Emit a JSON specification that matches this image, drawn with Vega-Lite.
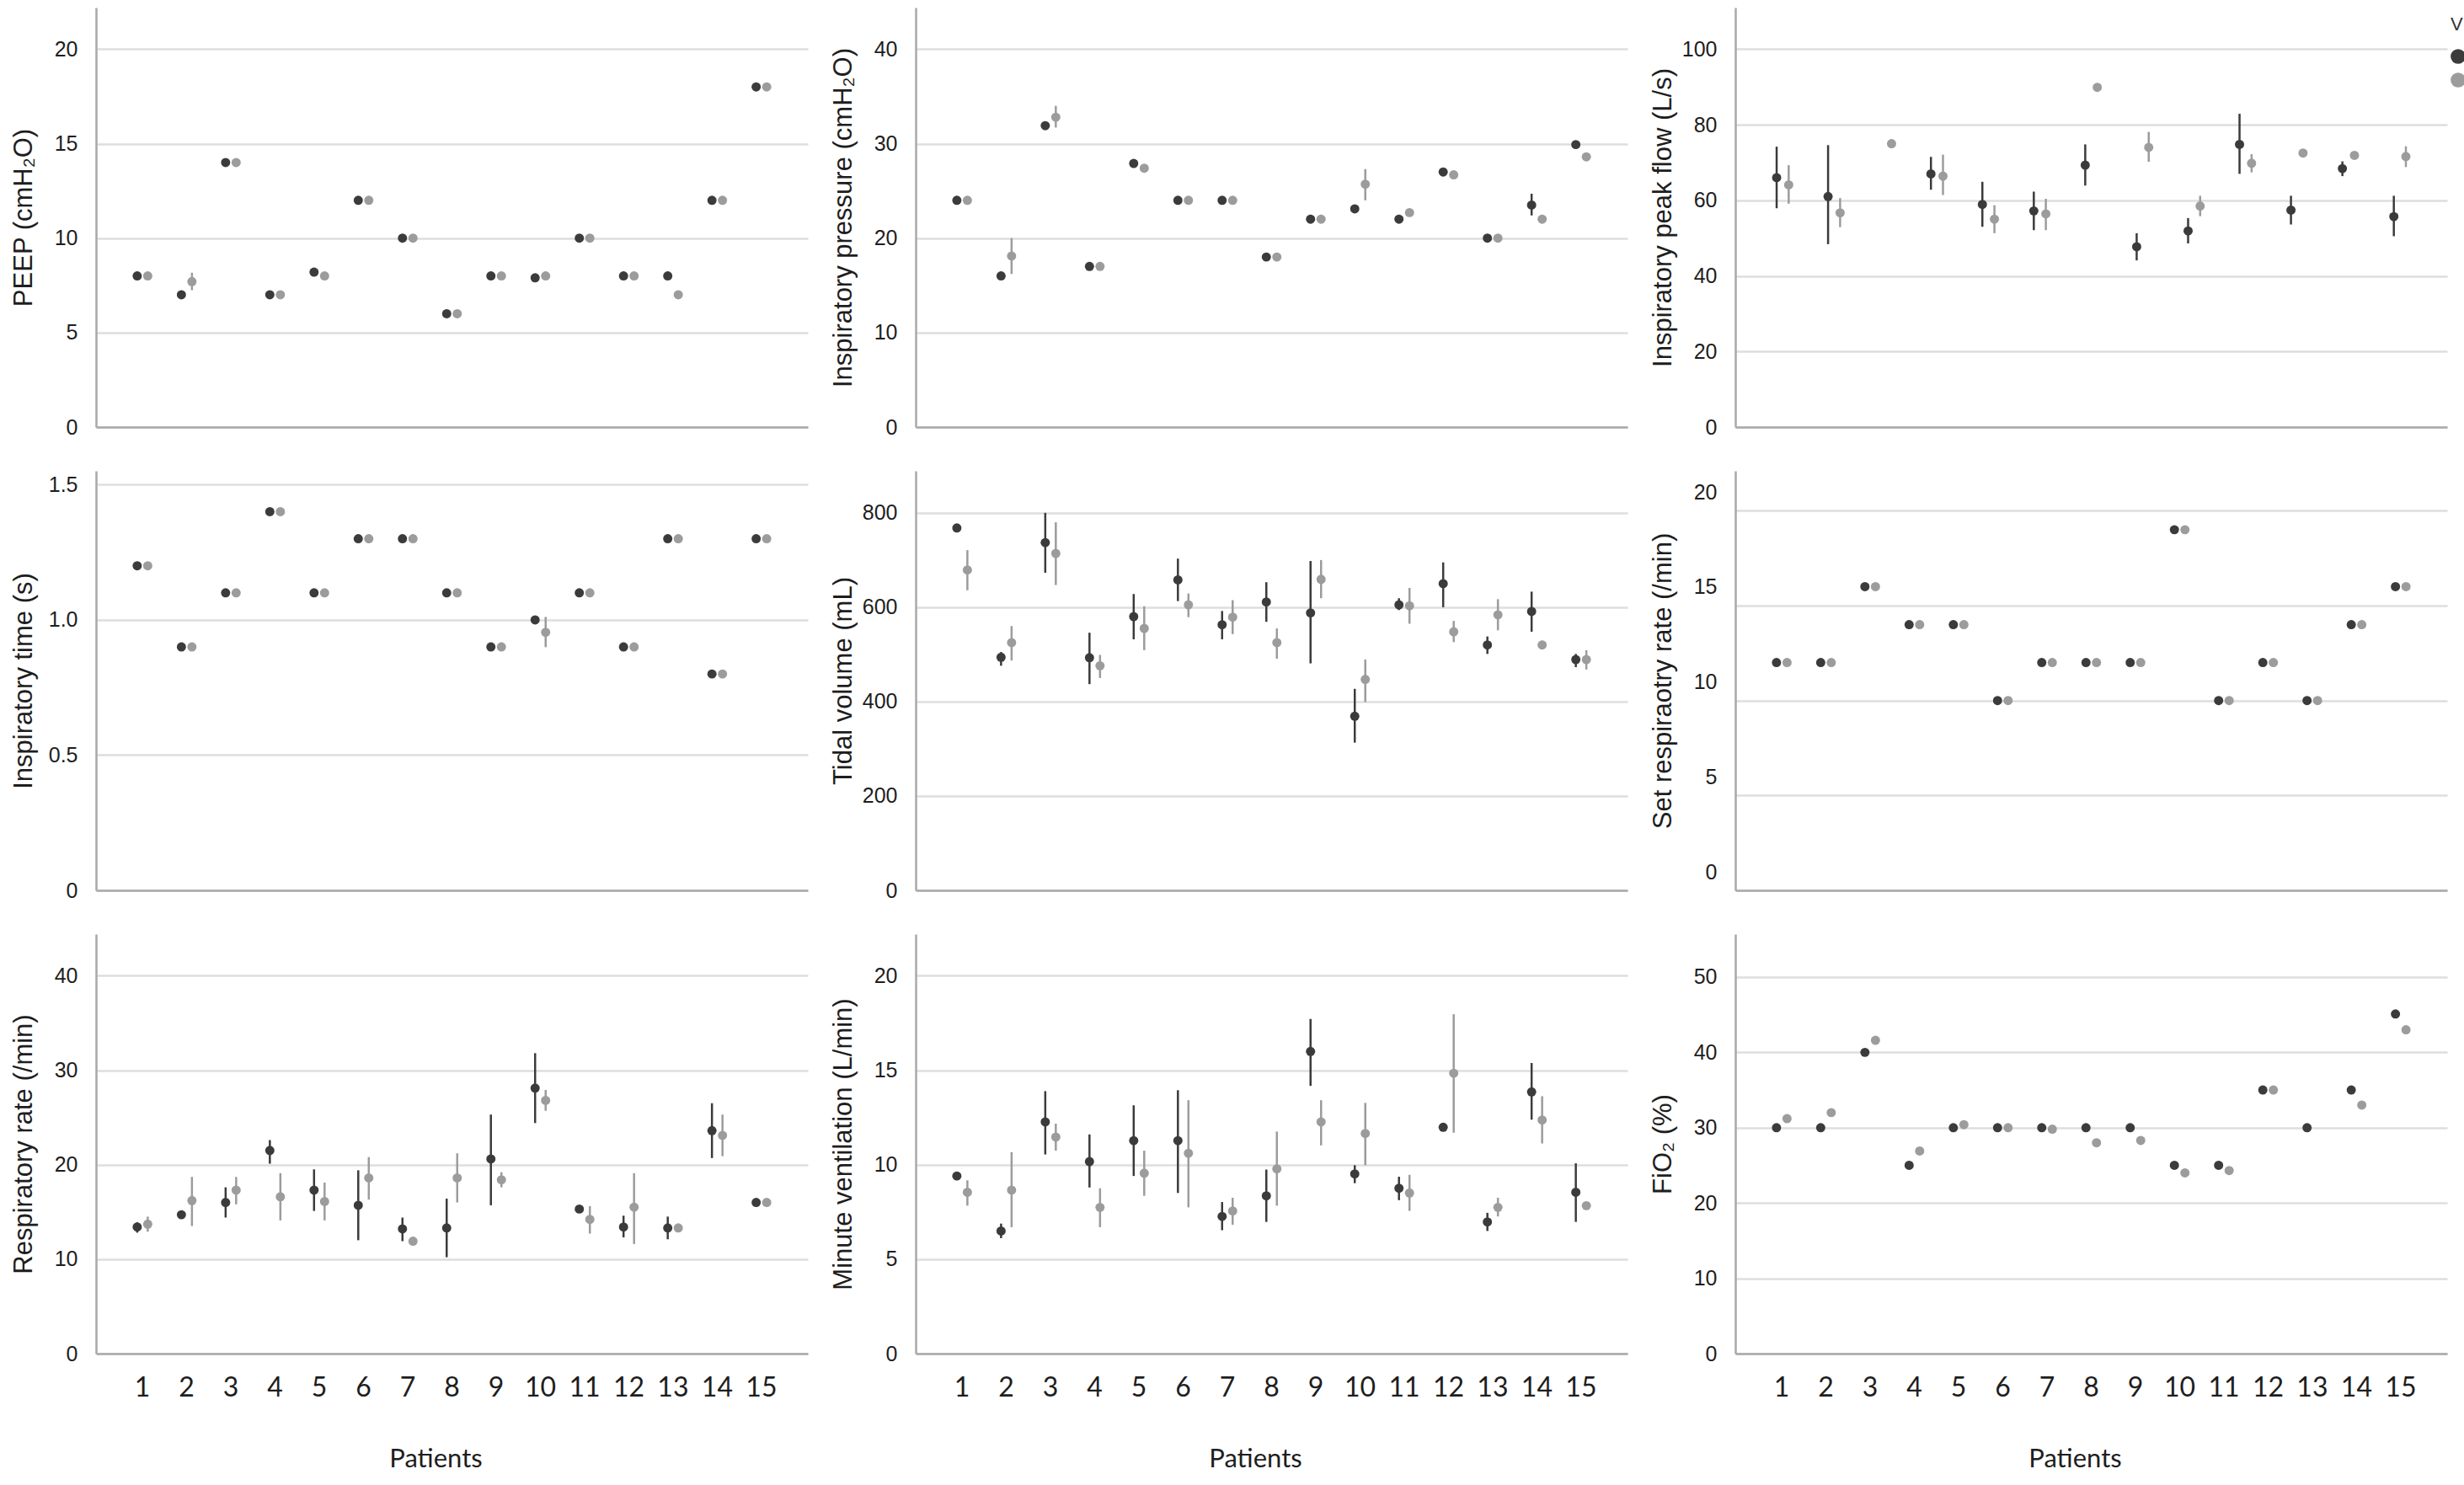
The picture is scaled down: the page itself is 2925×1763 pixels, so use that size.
{
  "$schema": "https://vega.github.io/schema/vega-lite/v6.json",
  "padding": {"left": 12, "top": 9, "right": 0, "bottom": 0},
  "background": "white",
  "columns": 3,
  "spacing": {"row": 39, "column": 26},
  "resolve": {"scale": {"x": "independent", "y": "independent", "xOffset": "independent", "color": "shared"}, "legend": {"color": "shared"}},
  "config": {
    "view": {"stroke": null},
    "axis": {"domainColor": "#a9a9a9", "domainWidth": 2.5, "gridColor": "#dedede", "gridWidth": 2.5, "ticks": false, "labelColor": "#1e1e1e", "titleColor": "#1e1e1e"},
    "axisY": {"grid": true, "labelFont": "Liberation Sans Narrow, Liberation Sans, Arial", "labelFontSize": 25, "labelPadding": 22, "minExtent": 64, "maxExtent": 64, "titleFont": "Liberation Sans, Arial", "titleFontSize": 31, "titleFontWeight": "normal", "titlePadding": 6},
    "axisX": {"grid": false, "labelFont": "Lato", "labelFontSize": 32, "labelAngle": 0, "labelPadding": 25, "titleFont": "Lato", "titleFontSize": 31, "titleFontWeight": "normal", "titlePadding": 54},
    "legend": {"offset": -6, "padding": 10, "titleFontSize": 22, "titleFont": "Liberation Sans", "titleFontWeight": "normal", "titleColor": "#333333", "titlePadding": 17, "symbolSize": 314, "symbolType": "circle", "symbolStrokeWidth": 0, "rowPadding": 10, "labelFontSize": 10, "labelOffset": 4}
  },
  "concat": [
    {
      "width": 845, "height": 498,
      "data": {"values": [
        {"patient": 1, "group": "A", "mean": 8, "lo": 8, "hi": 8}, {"patient": 1, "group": "B", "mean": 8, "lo": 8, "hi": 8},
        {"patient": 2, "group": "A", "mean": 7, "lo": 7, "hi": 7}, {"patient": 2, "group": "B", "mean": 7.7, "lo": 7.24, "hi": 8.17},
        {"patient": 3, "group": "A", "mean": 14, "lo": 14, "hi": 14}, {"patient": 3, "group": "B", "mean": 14, "lo": 14, "hi": 14},
        {"patient": 4, "group": "A", "mean": 7, "lo": 7, "hi": 7}, {"patient": 4, "group": "B", "mean": 7, "lo": 7, "hi": 7},
        {"patient": 5, "group": "A", "mean": 8.2, "lo": 8.2, "hi": 8.2}, {"patient": 5, "group": "B", "mean": 8, "lo": 8, "hi": 8},
        {"patient": 6, "group": "A", "mean": 12, "lo": 12, "hi": 12}, {"patient": 6, "group": "B", "mean": 12, "lo": 12, "hi": 12},
        {"patient": 7, "group": "A", "mean": 10, "lo": 10, "hi": 10}, {"patient": 7, "group": "B", "mean": 10, "lo": 10, "hi": 10},
        {"patient": 8, "group": "A", "mean": 6, "lo": 6, "hi": 6}, {"patient": 8, "group": "B", "mean": 6, "lo": 6, "hi": 6},
        {"patient": 9, "group": "A", "mean": 8, "lo": 8, "hi": 8}, {"patient": 9, "group": "B", "mean": 8, "lo": 8, "hi": 8},
        {"patient": 10, "group": "A", "mean": 7.9, "lo": 7.9, "hi": 7.9}, {"patient": 10, "group": "B", "mean": 8, "lo": 8, "hi": 8},
        {"patient": 11, "group": "A", "mean": 10, "lo": 10, "hi": 10}, {"patient": 11, "group": "B", "mean": 10, "lo": 10, "hi": 10},
        {"patient": 12, "group": "A", "mean": 8, "lo": 8, "hi": 8}, {"patient": 12, "group": "B", "mean": 8, "lo": 8, "hi": 8},
        {"patient": 13, "group": "A", "mean": 8, "lo": 8, "hi": 8}, {"patient": 13, "group": "B", "mean": 7, "lo": 7, "hi": 7},
        {"patient": 14, "group": "A", "mean": 12, "lo": 12, "hi": 12}, {"patient": 14, "group": "B", "mean": 12, "lo": 12, "hi": 12},
        {"patient": 15, "group": "A", "mean": 18, "lo": 18, "hi": 18}, {"patient": 15, "group": "B", "mean": 18, "lo": 18, "hi": 18}
      ]},
      "encoding": {
        "x": {"field": "patient", "type": "ordinal", "scale": {"type": "band", "paddingInner": 0, "paddingOuter": 0.55}, "axis": {"labels": false, "title": null}},
        "xOffset": {"field": "group", "type": "nominal", "scale": {"type": "point", "padding": 0, "range": [20, 32.5]}},
        "color": {"field": "group", "type": "nominal", "title": "V", "scale": {"domain": ["A", "B"], "range": ["#3b3b3b", "#9c9c9c"]}}
      },
      "layer": [
        {"mark": {"type": "circle", "size": 120, "opacity": 1}, "encoding": {"y": {"field": "mean", "type": "quantitative", "title": "PEEP (cmH₂O)", "scale": {"domain": [0, 22.2], "nice": false}, "axis": {"values": [0, 5, 10, 15, 20]}}}},
        {"mark": {"type": "rule", "strokeWidth": 2.5}, "encoding": {"y": {"field": "lo", "type": "quantitative", "title": "PEEP (cmH₂O)", "scale": {"domain": [0, 22.2], "nice": false}, "axis": {"values": [0, 5, 10, 15, 20]}}, "y2": {"field": "hi"}}}
      ]
    },
    {
      "width": 845, "height": 498,
      "data": {"values": [
        {"patient": 1, "group": "A", "mean": 24, "lo": 24, "hi": 24}, {"patient": 1, "group": "B", "mean": 24, "lo": 24, "hi": 24},
        {"patient": 2, "group": "A", "mean": 16, "lo": 16, "hi": 16}, {"patient": 2, "group": "B", "mean": 18.1, "lo": 16.2, "hi": 20.0},
        {"patient": 3, "group": "A", "mean": 31.9, "lo": 31.9, "hi": 31.9}, {"patient": 3, "group": "B", "mean": 32.8, "lo": 31.7, "hi": 34.0},
        {"patient": 4, "group": "A", "mean": 17, "lo": 17, "hi": 17}, {"patient": 4, "group": "B", "mean": 17, "lo": 17, "hi": 17},
        {"patient": 5, "group": "A", "mean": 27.9, "lo": 27.9, "hi": 27.9}, {"patient": 5, "group": "B", "mean": 27.4, "lo": 27.4, "hi": 27.4},
        {"patient": 6, "group": "A", "mean": 24, "lo": 24, "hi": 24}, {"patient": 6, "group": "B", "mean": 24, "lo": 24, "hi": 24},
        {"patient": 7, "group": "A", "mean": 24, "lo": 24, "hi": 24}, {"patient": 7, "group": "B", "mean": 24, "lo": 24, "hi": 24},
        {"patient": 8, "group": "A", "mean": 18, "lo": 18, "hi": 18}, {"patient": 8, "group": "B", "mean": 18, "lo": 18, "hi": 18},
        {"patient": 9, "group": "A", "mean": 22, "lo": 22, "hi": 22}, {"patient": 9, "group": "B", "mean": 22, "lo": 22, "hi": 22},
        {"patient": 10, "group": "A", "mean": 23.1, "lo": 23.1, "hi": 23.1}, {"patient": 10, "group": "B", "mean": 25.7, "lo": 24.0, "hi": 27.3},
        {"patient": 11, "group": "A", "mean": 22.0, "lo": 22.0, "hi": 22.0}, {"patient": 11, "group": "B", "mean": 22.7, "lo": 22.7, "hi": 22.7},
        {"patient": 12, "group": "A", "mean": 27.0, "lo": 27.0, "hi": 27.0}, {"patient": 12, "group": "B", "mean": 26.7, "lo": 26.7, "hi": 26.7},
        {"patient": 13, "group": "A", "mean": 20, "lo": 20, "hi": 20}, {"patient": 13, "group": "B", "mean": 20, "lo": 20, "hi": 20},
        {"patient": 14, "group": "A", "mean": 23.5, "lo": 22.4, "hi": 24.7}, {"patient": 14, "group": "B", "mean": 22.0, "lo": 22.0, "hi": 22.0},
        {"patient": 15, "group": "A", "mean": 29.9, "lo": 29.9, "hi": 29.9}, {"patient": 15, "group": "B", "mean": 28.6, "lo": 28.6, "hi": 28.6}
      ]},
      "encoding": {
        "x": {"field": "patient", "type": "ordinal", "scale": {"type": "band", "paddingInner": 0, "paddingOuter": 0.55}, "axis": {"labels": false, "title": null}},
        "xOffset": {"field": "group", "type": "nominal", "scale": {"type": "point", "padding": 0, "range": [20, 32.5]}},
        "color": {"field": "group", "type": "nominal", "title": "V", "scale": {"domain": ["A", "B"], "range": ["#3b3b3b", "#9c9c9c"]}}
      },
      "layer": [
        {"mark": {"type": "circle", "size": 120, "opacity": 1}, "encoding": {"y": {"field": "mean", "type": "quantitative", "title": "Inspiratory pressure (cmH₂O)", "scale": {"domain": [0, 44.4], "nice": false}, "axis": {"values": [0, 10, 20, 30, 40]}}}},
        {"mark": {"type": "rule", "strokeWidth": 2.5}, "encoding": {"y": {"field": "lo", "type": "quantitative", "title": "Inspiratory pressure (cmH₂O)", "scale": {"domain": [0, 44.4], "nice": false}, "axis": {"values": [0, 10, 20, 30, 40]}}, "y2": {"field": "hi"}}}
      ]
    },
    {
      "width": 845, "height": 498,
      "data": {"values": [
        {"patient": 1, "group": "A", "mean": 66.0, "lo": 57.9, "hi": 74.2}, {"patient": 1, "group": "B", "mean": 64.1, "lo": 59.1, "hi": 69.3},
        {"patient": 2, "group": "A", "mean": 61.0, "lo": 48.4, "hi": 74.6}, {"patient": 2, "group": "B", "mean": 56.7, "lo": 52.9, "hi": 60.6},
        {"patient": 3, "group": "B", "mean": 75.0, "lo": 75.0, "hi": 75.0},
        {"patient": 4, "group": "A", "mean": 67.0, "lo": 62.8, "hi": 71.5}, {"patient": 4, "group": "B", "mean": 66.4, "lo": 61.4, "hi": 72.1},
        {"patient": 5, "group": "A", "mean": 58.9, "lo": 53.0, "hi": 64.9}, {"patient": 5, "group": "B", "mean": 55.0, "lo": 51.3, "hi": 58.7},
        {"patient": 6, "group": "A", "mean": 57.2, "lo": 52.1, "hi": 62.3}, {"patient": 6, "group": "B", "mean": 56.4, "lo": 52.1, "hi": 60.4},
        {"patient": 7, "group": "A", "mean": 69.3, "lo": 63.9, "hi": 74.8}, {"patient": 7, "group": "B", "mean": 89.9, "lo": 89.9, "hi": 89.9},
        {"patient": 8, "group": "A", "mean": 47.7, "lo": 44.1, "hi": 51.3}, {"patient": 8, "group": "B", "mean": 74.0, "lo": 70.2, "hi": 78.1},
        {"patient": 9, "group": "A", "mean": 51.9, "lo": 48.6, "hi": 55.3}, {"patient": 9, "group": "B", "mean": 58.5, "lo": 55.8, "hi": 61.2},
        {"patient": 10, "group": "A", "mean": 74.8, "lo": 67.0, "hi": 82.9}, {"patient": 10, "group": "B", "mean": 69.8, "lo": 67.4, "hi": 72.2},
        {"patient": 11, "group": "A", "mean": 57.4, "lo": 53.6, "hi": 61.2}, {"patient": 11, "group": "B", "mean": 72.5, "lo": 72.5, "hi": 72.5},
        {"patient": 12, "group": "A", "mean": 68.4, "lo": 66.4, "hi": 70.3}, {"patient": 12, "group": "B", "mean": 71.9, "lo": 71.9, "hi": 71.9},
        {"patient": 13, "group": "A", "mean": 55.7, "lo": 50.5, "hi": 61.2}, {"patient": 13, "group": "B", "mean": 71.6, "lo": 68.8, "hi": 74.3}
      ]},
      "encoding": {
        "x": {"field": "patient", "type": "ordinal", "scale": {"type": "band", "paddingInner": 0, "paddingOuter": 0.42}, "axis": {"labels": false, "title": null}},
        "xOffset": {"field": "group", "type": "nominal", "scale": {"type": "point", "padding": 0, "range": [23.4, 37.7]}},
        "color": {"field": "group", "type": "nominal", "title": "V", "scale": {"domain": ["A", "B"], "range": ["#3b3b3b", "#9c9c9c"]}}
      },
      "layer": [
        {"mark": {"type": "circle", "size": 120, "opacity": 1}, "encoding": {"y": {"field": "mean", "type": "quantitative", "title": "Inspiratory peak flow (L/s)", "scale": {"domain": [0, 111], "nice": false}, "axis": {"values": [0, 20, 40, 60, 80, 100]}}}},
        {"mark": {"type": "rule", "strokeWidth": 2.5}, "encoding": {"y": {"field": "lo", "type": "quantitative", "title": "Inspiratory peak flow (L/s)", "scale": {"domain": [0, 111], "nice": false}, "axis": {"values": [0, 20, 40, 60, 80, 100]}}, "y2": {"field": "hi"}}}
      ]
    },
    {
      "width": 845, "height": 498,
      "data": {"values": [
        {"patient": 1, "group": "A", "mean": 1.2, "lo": 1.2, "hi": 1.2}, {"patient": 1, "group": "B", "mean": 1.2, "lo": 1.2, "hi": 1.2},
        {"patient": 2, "group": "A", "mean": 0.9, "lo": 0.9, "hi": 0.9}, {"patient": 2, "group": "B", "mean": 0.9, "lo": 0.9, "hi": 0.9},
        {"patient": 3, "group": "A", "mean": 1.1, "lo": 1.1, "hi": 1.1}, {"patient": 3, "group": "B", "mean": 1.1, "lo": 1.1, "hi": 1.1},
        {"patient": 4, "group": "A", "mean": 1.4, "lo": 1.4, "hi": 1.4}, {"patient": 4, "group": "B", "mean": 1.4, "lo": 1.4, "hi": 1.4},
        {"patient": 5, "group": "A", "mean": 1.1, "lo": 1.1, "hi": 1.1}, {"patient": 5, "group": "B", "mean": 1.1, "lo": 1.1, "hi": 1.1},
        {"patient": 6, "group": "A", "mean": 1.3, "lo": 1.3, "hi": 1.3}, {"patient": 6, "group": "B", "mean": 1.3, "lo": 1.3, "hi": 1.3},
        {"patient": 7, "group": "A", "mean": 1.3, "lo": 1.3, "hi": 1.3}, {"patient": 7, "group": "B", "mean": 1.3, "lo": 1.3, "hi": 1.3},
        {"patient": 8, "group": "A", "mean": 1.1, "lo": 1.1, "hi": 1.1}, {"patient": 8, "group": "B", "mean": 1.1, "lo": 1.1, "hi": 1.1},
        {"patient": 9, "group": "A", "mean": 0.9, "lo": 0.9, "hi": 0.9}, {"patient": 9, "group": "B", "mean": 0.9, "lo": 0.9, "hi": 0.9},
        {"patient": 10, "group": "A", "mean": 1.0, "lo": 1.0, "hi": 1.0}, {"patient": 10, "group": "B", "mean": 0.954, "lo": 0.899, "hi": 1.011},
        {"patient": 11, "group": "A", "mean": 1.1, "lo": 1.1, "hi": 1.1}, {"patient": 11, "group": "B", "mean": 1.1, "lo": 1.1, "hi": 1.1},
        {"patient": 12, "group": "A", "mean": 0.9, "lo": 0.9, "hi": 0.9}, {"patient": 12, "group": "B", "mean": 0.9, "lo": 0.9, "hi": 0.9},
        {"patient": 13, "group": "A", "mean": 1.3, "lo": 1.3, "hi": 1.3}, {"patient": 13, "group": "B", "mean": 1.3, "lo": 1.3, "hi": 1.3},
        {"patient": 14, "group": "A", "mean": 0.8, "lo": 0.8, "hi": 0.8}, {"patient": 14, "group": "B", "mean": 0.8, "lo": 0.8, "hi": 0.8},
        {"patient": 15, "group": "A", "mean": 1.3, "lo": 1.3, "hi": 1.3}, {"patient": 15, "group": "B", "mean": 1.3, "lo": 1.3, "hi": 1.3}
      ]},
      "encoding": {
        "x": {"field": "patient", "type": "ordinal", "scale": {"type": "band", "paddingInner": 0, "paddingOuter": 0.55}, "axis": {"labels": false, "title": null}},
        "xOffset": {"field": "group", "type": "nominal", "scale": {"type": "point", "padding": 0, "range": [20, 32.5]}},
        "color": {"field": "group", "type": "nominal", "title": "V", "scale": {"domain": ["A", "B"], "range": ["#3b3b3b", "#9c9c9c"]}}
      },
      "layer": [
        {"mark": {"type": "circle", "size": 120, "opacity": 1}, "encoding": {"y": {"field": "mean", "type": "quantitative", "title": "Inspiratory time (s)", "scale": {"domain": [0, 1.551], "nice": false}, "axis": {"values": [0, 0.5, 1, 1.5], "labelExpr": "datum.value == 0 ? '0' : format(datum.value, '.1f')"}}}},
        {"mark": {"type": "rule", "strokeWidth": 2.5}, "encoding": {"y": {"field": "lo", "type": "quantitative", "title": "Inspiratory time (s)", "scale": {"domain": [0, 1.551], "nice": false}, "axis": {"values": [0, 0.5, 1, 1.5], "labelExpr": "datum.value == 0 ? '0' : format(datum.value, '.1f')"}}, "y2": {"field": "hi"}}}
      ]
    },
    {
      "width": 845, "height": 498,
      "data": {"values": [
        {"patient": 1, "group": "A", "mean": 768, "lo": 768, "hi": 768}, {"patient": 1, "group": "B", "mean": 679, "lo": 636, "hi": 721},
        {"patient": 2, "group": "A", "mean": 494, "lo": 476, "hi": 505}, {"patient": 2, "group": "B", "mean": 525, "lo": 487, "hi": 560},
        {"patient": 3, "group": "A", "mean": 737, "lo": 673, "hi": 800}, {"patient": 3, "group": "B", "mean": 714, "lo": 647, "hi": 780},
        {"patient": 4, "group": "A", "mean": 493, "lo": 437, "hi": 546}, {"patient": 4, "group": "B", "mean": 476, "lo": 450, "hi": 499},
        {"patient": 5, "group": "A", "mean": 580, "lo": 532, "hi": 628}, {"patient": 5, "group": "B", "mean": 555, "lo": 509, "hi": 602},
        {"patient": 6, "group": "A", "mean": 658, "lo": 613, "hi": 703}, {"patient": 6, "group": "B", "mean": 605, "lo": 579, "hi": 629},
        {"patient": 7, "group": "A", "mean": 563, "lo": 532, "hi": 592}, {"patient": 7, "group": "B", "mean": 579, "lo": 543, "hi": 615},
        {"patient": 8, "group": "A", "mean": 611, "lo": 569, "hi": 653}, {"patient": 8, "group": "B", "mean": 525, "lo": 491, "hi": 555},
        {"patient": 9, "group": "A", "mean": 588, "lo": 481, "hi": 698}, {"patient": 9, "group": "B", "mean": 659, "lo": 619, "hi": 700},
        {"patient": 10, "group": "A", "mean": 369, "lo": 313, "hi": 427}, {"patient": 10, "group": "B", "mean": 447, "lo": 399, "hi": 489},
        {"patient": 11, "group": "A", "mean": 605, "lo": 594, "hi": 619}, {"patient": 11, "group": "B", "mean": 603, "lo": 565, "hi": 641},
        {"patient": 12, "group": "A", "mean": 650, "lo": 600, "hi": 695}, {"patient": 12, "group": "B", "mean": 548, "lo": 526, "hi": 571},
        {"patient": 13, "group": "A", "mean": 520, "lo": 501, "hi": 538}, {"patient": 13, "group": "B", "mean": 584, "lo": 551, "hi": 617},
        {"patient": 14, "group": "A", "mean": 591, "lo": 548, "hi": 633}, {"patient": 14, "group": "B", "mean": 520, "lo": 511, "hi": 529},
        {"patient": 15, "group": "A", "mean": 489, "lo": 473, "hi": 501}, {"patient": 15, "group": "B", "mean": 489, "lo": 468, "hi": 509}
      ]},
      "encoding": {
        "x": {"field": "patient", "type": "ordinal", "scale": {"type": "band", "paddingInner": 0, "paddingOuter": 0.55}, "axis": {"labels": false, "title": null}},
        "xOffset": {"field": "group", "type": "nominal", "scale": {"type": "point", "padding": 0, "range": [20, 32.5]}},
        "color": {"field": "group", "type": "nominal", "title": "V", "scale": {"domain": ["A", "B"], "range": ["#3b3b3b", "#9c9c9c"]}}
      },
      "layer": [
        {"mark": {"type": "circle", "size": 120, "opacity": 1}, "encoding": {"y": {"field": "mean", "type": "quantitative", "title": "Tidal volume (mL)", "scale": {"domain": [0, 889], "nice": false}, "axis": {"values": [0, 200, 400, 600, 800]}}}},
        {"mark": {"type": "rule", "strokeWidth": 2.5}, "encoding": {"y": {"field": "lo", "type": "quantitative", "title": "Tidal volume (mL)", "scale": {"domain": [0, 889], "nice": false}, "axis": {"values": [0, 200, 400, 600, 800]}}, "y2": {"field": "hi"}}}
      ]
    },
    {
      "width": 845, "height": 498,
      "data": {"values": [
        {"patient": 1, "group": "A", "mean": 12, "lo": 12, "hi": 12}, {"patient": 1, "group": "B", "mean": 12, "lo": 12, "hi": 12},
        {"patient": 2, "group": "A", "mean": 12, "lo": 12, "hi": 12}, {"patient": 2, "group": "B", "mean": 12, "lo": 12, "hi": 12},
        {"patient": 3, "group": "A", "mean": 16, "lo": 16, "hi": 16}, {"patient": 3, "group": "B", "mean": 16, "lo": 16, "hi": 16},
        {"patient": 4, "group": "A", "mean": 14, "lo": 14, "hi": 14}, {"patient": 4, "group": "B", "mean": 14, "lo": 14, "hi": 14},
        {"patient": 5, "group": "A", "mean": 14, "lo": 14, "hi": 14}, {"patient": 5, "group": "B", "mean": 14, "lo": 14, "hi": 14},
        {"patient": 6, "group": "A", "mean": 10, "lo": 10, "hi": 10}, {"patient": 6, "group": "B", "mean": 10, "lo": 10, "hi": 10},
        {"patient": 7, "group": "A", "mean": 12, "lo": 12, "hi": 12}, {"patient": 7, "group": "B", "mean": 12, "lo": 12, "hi": 12},
        {"patient": 8, "group": "A", "mean": 12, "lo": 12, "hi": 12}, {"patient": 8, "group": "B", "mean": 12, "lo": 12, "hi": 12},
        {"patient": 9, "group": "A", "mean": 12, "lo": 12, "hi": 12}, {"patient": 9, "group": "B", "mean": 12, "lo": 12, "hi": 12},
        {"patient": 10, "group": "A", "mean": 19, "lo": 19, "hi": 19}, {"patient": 10, "group": "B", "mean": 19, "lo": 19, "hi": 19},
        {"patient": 11, "group": "A", "mean": 10, "lo": 10, "hi": 10}, {"patient": 11, "group": "B", "mean": 10, "lo": 10, "hi": 10},
        {"patient": 12, "group": "A", "mean": 12, "lo": 12, "hi": 12}, {"patient": 12, "group": "B", "mean": 12, "lo": 12, "hi": 12},
        {"patient": 13, "group": "A", "mean": 10, "lo": 10, "hi": 10}, {"patient": 13, "group": "B", "mean": 10, "lo": 10, "hi": 10},
        {"patient": 14, "group": "A", "mean": 14, "lo": 14, "hi": 14}, {"patient": 14, "group": "B", "mean": 14, "lo": 14, "hi": 14},
        {"patient": 15, "group": "A", "mean": 16, "lo": 16, "hi": 16}, {"patient": 15, "group": "B", "mean": 16, "lo": 16, "hi": 16}
      ]},
      "encoding": {
        "x": {"field": "patient", "type": "ordinal", "scale": {"type": "band", "paddingInner": 0, "paddingOuter": 0.55}, "axis": {"labels": false, "title": null}},
        "xOffset": {"field": "group", "type": "nominal", "scale": {"type": "point", "padding": 0, "range": [20, 32.5]}},
        "color": {"field": "group", "type": "nominal", "title": "V", "scale": {"domain": ["A", "B"], "range": ["#3b3b3b", "#9c9c9c"]}}
      },
      "layer": [
        {"mark": {"type": "circle", "size": 120, "opacity": 1}, "encoding": {"y": {"field": "mean", "type": "quantitative", "title": "Set respiraotry rate (/min)", "scale": {"domain": [0, 22.1], "nice": false}, "axis": {"values": [0, 5, 10, 15, 20], "labelOffset": -22}}}},
        {"mark": {"type": "rule", "strokeWidth": 2.5}, "encoding": {"y": {"field": "lo", "type": "quantitative", "title": "Set respiraotry rate (/min)", "scale": {"domain": [0, 22.1], "nice": false}, "axis": {"values": [0, 5, 10, 15, 20], "labelOffset": -22}}, "y2": {"field": "hi"}}}
      ]
    },
    {
      "width": 845, "height": 498,
      "data": {"values": [
        {"patient": 1, "group": "A", "mean": 13.4, "lo": 12.8, "hi": 13.9}, {"patient": 1, "group": "B", "mean": 13.7, "lo": 12.9, "hi": 14.5},
        {"patient": 2, "group": "A", "mean": 14.7, "lo": 14.4, "hi": 15.1}, {"patient": 2, "group": "B", "mean": 16.2, "lo": 13.5, "hi": 18.7},
        {"patient": 3, "group": "A", "mean": 16.0, "lo": 14.4, "hi": 17.6}, {"patient": 3, "group": "B", "mean": 17.3, "lo": 15.8, "hi": 18.7},
        {"patient": 4, "group": "A", "mean": 21.5, "lo": 20.1, "hi": 22.6}, {"patient": 4, "group": "B", "mean": 16.6, "lo": 14.1, "hi": 19.1},
        {"patient": 5, "group": "A", "mean": 17.3, "lo": 15.1, "hi": 19.5}, {"patient": 5, "group": "B", "mean": 16.1, "lo": 14.1, "hi": 18.1},
        {"patient": 6, "group": "A", "mean": 15.7, "lo": 12.0, "hi": 19.4}, {"patient": 6, "group": "B", "mean": 18.6, "lo": 16.3, "hi": 20.8},
        {"patient": 7, "group": "A", "mean": 13.2, "lo": 11.9, "hi": 14.4}, {"patient": 7, "group": "B", "mean": 11.9, "lo": 11.9, "hi": 11.9},
        {"patient": 8, "group": "A", "mean": 13.3, "lo": 10.2, "hi": 16.4}, {"patient": 8, "group": "B", "mean": 18.6, "lo": 16.0, "hi": 21.2},
        {"patient": 9, "group": "A", "mean": 20.6, "lo": 15.7, "hi": 25.3}, {"patient": 9, "group": "B", "mean": 18.4, "lo": 17.6, "hi": 19.2},
        {"patient": 10, "group": "A", "mean": 28.1, "lo": 24.4, "hi": 31.8}, {"patient": 10, "group": "B", "mean": 26.8, "lo": 25.7, "hi": 27.9},
        {"patient": 11, "group": "A", "mean": 15.3, "lo": 14.9, "hi": 15.6}, {"patient": 11, "group": "B", "mean": 14.2, "lo": 12.7, "hi": 15.6},
        {"patient": 12, "group": "A", "mean": 13.4, "lo": 12.3, "hi": 14.6}, {"patient": 12, "group": "B", "mean": 15.5, "lo": 11.6, "hi": 19.1},
        {"patient": 13, "group": "A", "mean": 13.3, "lo": 12.1, "hi": 14.5}, {"patient": 13, "group": "B", "mean": 13.3, "lo": 13.3, "hi": 13.3},
        {"patient": 14, "group": "A", "mean": 23.6, "lo": 20.7, "hi": 26.5}, {"patient": 14, "group": "B", "mean": 23.1, "lo": 20.9, "hi": 25.3},
        {"patient": 15, "group": "A", "mean": 16.0, "lo": 16.0, "hi": 16.0}, {"patient": 15, "group": "B", "mean": 16.0, "lo": 16.0, "hi": 16.0}
      ]},
      "encoding": {
        "x": {"field": "patient", "type": "ordinal", "scale": {"type": "band", "paddingInner": 0, "paddingOuter": 0.55}, "axis": {"title": "Patients", "titleX": 403}},
        "xOffset": {"field": "group", "type": "nominal", "scale": {"type": "point", "padding": 0, "range": [20, 32.5]}},
        "color": {"field": "group", "type": "nominal", "title": "V", "scale": {"domain": ["A", "B"], "range": ["#3b3b3b", "#9c9c9c"]}}
      },
      "layer": [
        {"mark": {"type": "circle", "size": 120, "opacity": 1}, "encoding": {"y": {"field": "mean", "type": "quantitative", "title": "Respiratory rate (/min)", "scale": {"domain": [0, 44.4], "nice": false}, "axis": {"values": [0, 10, 20, 30, 40]}}}},
        {"mark": {"type": "rule", "strokeWidth": 2.5}, "encoding": {"y": {"field": "lo", "type": "quantitative", "title": "Respiratory rate (/min)", "scale": {"domain": [0, 44.4], "nice": false}, "axis": {"values": [0, 10, 20, 30, 40]}}, "y2": {"field": "hi"}}}
      ]
    },
    {
      "width": 845, "height": 498,
      "data": {"values": [
        {"patient": 1, "group": "A", "mean": 9.4, "lo": 9.4, "hi": 9.4}, {"patient": 1, "group": "B", "mean": 8.54, "lo": 7.83, "hi": 9.17},
        {"patient": 2, "group": "A", "mean": 6.49, "lo": 6.11, "hi": 6.88}, {"patient": 2, "group": "B", "mean": 8.65, "lo": 6.69, "hi": 10.66},
        {"patient": 3, "group": "A", "mean": 12.26, "lo": 10.54, "hi": 13.89}, {"patient": 3, "group": "B", "mean": 11.46, "lo": 10.74, "hi": 12.17},
        {"patient": 4, "group": "A", "mean": 10.16, "lo": 8.79, "hi": 11.6}, {"patient": 4, "group": "B", "mean": 7.74, "lo": 6.69, "hi": 8.75},
        {"patient": 5, "group": "A", "mean": 11.27, "lo": 9.4, "hi": 13.14}, {"patient": 5, "group": "B", "mean": 9.55, "lo": 8.35, "hi": 10.74},
        {"patient": 6, "group": "A", "mean": 11.27, "lo": 8.5, "hi": 13.94}, {"patient": 6, "group": "B", "mean": 10.6, "lo": 7.74, "hi": 13.41},
        {"patient": 7, "group": "A", "mean": 7.26, "lo": 6.53, "hi": 8.02}, {"patient": 7, "group": "B", "mean": 7.55, "lo": 6.82, "hi": 8.25},
        {"patient": 8, "group": "A", "mean": 8.35, "lo": 6.97, "hi": 9.74}, {"patient": 8, "group": "B", "mean": 9.78, "lo": 7.83, "hi": 11.75},
        {"patient": 9, "group": "A", "mean": 15.99, "lo": 14.17, "hi": 17.71}, {"patient": 9, "group": "B", "mean": 12.26, "lo": 11.02, "hi": 13.41},
        {"patient": 10, "group": "A", "mean": 9.51, "lo": 9.02, "hi": 9.97}, {"patient": 10, "group": "B", "mean": 11.65, "lo": 9.97, "hi": 13.27},
        {"patient": 11, "group": "A", "mean": 8.75, "lo": 8.12, "hi": 9.36}, {"patient": 11, "group": "B", "mean": 8.5, "lo": 7.55, "hi": 9.46},
        {"patient": 12, "group": "A", "mean": 11.98, "lo": 11.8, "hi": 12.15}, {"patient": 12, "group": "B", "mean": 14.84, "lo": 11.69, "hi": 17.96},
        {"patient": 13, "group": "A", "mean": 6.97, "lo": 6.49, "hi": 7.45}, {"patient": 13, "group": "B", "mean": 7.74, "lo": 7.26, "hi": 8.25},
        {"patient": 14, "group": "A", "mean": 13.85, "lo": 12.38, "hi": 15.38}, {"patient": 14, "group": "B", "mean": 12.36, "lo": 11.12, "hi": 13.62},
        {"patient": 15, "group": "A", "mean": 8.54, "lo": 6.97, "hi": 10.07}, {"patient": 15, "group": "B", "mean": 7.83, "lo": 7.65, "hi": 8.0}
      ]},
      "encoding": {
        "x": {"field": "patient", "type": "ordinal", "scale": {"type": "band", "paddingInner": 0, "paddingOuter": 0.55}, "axis": {"title": "Patients", "titleX": 403}},
        "xOffset": {"field": "group", "type": "nominal", "scale": {"type": "point", "padding": 0, "range": [20, 32.5]}},
        "color": {"field": "group", "type": "nominal", "title": "V", "scale": {"domain": ["A", "B"], "range": ["#3b3b3b", "#9c9c9c"]}}
      },
      "layer": [
        {"mark": {"type": "circle", "size": 120, "opacity": 1}, "encoding": {"y": {"field": "mean", "type": "quantitative", "title": "Minute ventilation (L/min)", "scale": {"domain": [0, 22.2], "nice": false}, "axis": {"values": [0, 5, 10, 15, 20]}}}},
        {"mark": {"type": "rule", "strokeWidth": 2.5}, "encoding": {"y": {"field": "lo", "type": "quantitative", "title": "Minute ventilation (L/min)", "scale": {"domain": [0, 22.2], "nice": false}, "axis": {"values": [0, 5, 10, 15, 20]}}, "y2": {"field": "hi"}}}
      ]
    },
    {
      "width": 845, "height": 498,
      "data": {"values": [
        {"patient": 1, "group": "A", "mean": 30, "lo": 30, "hi": 30}, {"patient": 1, "group": "B", "mean": 31.2, "lo": 31.2, "hi": 31.2},
        {"patient": 2, "group": "A", "mean": 30, "lo": 30, "hi": 30}, {"patient": 2, "group": "B", "mean": 32.0, "lo": 32.0, "hi": 32.0},
        {"patient": 3, "group": "A", "mean": 40, "lo": 40, "hi": 40}, {"patient": 3, "group": "B", "mean": 41.6, "lo": 41.6, "hi": 41.6},
        {"patient": 4, "group": "A", "mean": 25, "lo": 25, "hi": 25}, {"patient": 4, "group": "B", "mean": 26.9, "lo": 26.9, "hi": 26.9},
        {"patient": 5, "group": "A", "mean": 30, "lo": 30, "hi": 30}, {"patient": 5, "group": "B", "mean": 30.4, "lo": 30.4, "hi": 30.4},
        {"patient": 6, "group": "A", "mean": 30, "lo": 30, "hi": 30}, {"patient": 6, "group": "B", "mean": 30, "lo": 30, "hi": 30},
        {"patient": 7, "group": "A", "mean": 30, "lo": 30, "hi": 30}, {"patient": 7, "group": "B", "mean": 29.8, "lo": 29.8, "hi": 29.8},
        {"patient": 8, "group": "A", "mean": 30, "lo": 30, "hi": 30}, {"patient": 8, "group": "B", "mean": 28.0, "lo": 28.0, "hi": 28.0},
        {"patient": 9, "group": "A", "mean": 30, "lo": 30, "hi": 30}, {"patient": 9, "group": "B", "mean": 28.3, "lo": 28.3, "hi": 28.3},
        {"patient": 10, "group": "A", "mean": 25, "lo": 25, "hi": 25}, {"patient": 10, "group": "B", "mean": 24.0, "lo": 24.0, "hi": 24.0},
        {"patient": 11, "group": "A", "mean": 25, "lo": 25, "hi": 25}, {"patient": 11, "group": "B", "mean": 24.3, "lo": 24.3, "hi": 24.3},
        {"patient": 12, "group": "A", "mean": 35, "lo": 35, "hi": 35}, {"patient": 12, "group": "B", "mean": 35, "lo": 35, "hi": 35},
        {"patient": 13, "group": "A", "mean": 30, "lo": 30, "hi": 30},
        {"patient": 14, "group": "A", "mean": 35, "lo": 35, "hi": 35}, {"patient": 14, "group": "B", "mean": 33.0, "lo": 33.0, "hi": 33.0},
        {"patient": 15, "group": "A", "mean": 45.1, "lo": 45.1, "hi": 45.1}, {"patient": 15, "group": "B", "mean": 43.0, "lo": 43.0, "hi": 43.0}
      ]},
      "encoding": {
        "x": {"field": "patient", "type": "ordinal", "scale": {"type": "band", "paddingInner": 0, "paddingOuter": 0.55}, "axis": {"title": "Patients", "titleX": 403}},
        "xOffset": {"field": "group", "type": "nominal", "scale": {"type": "point", "padding": 0, "range": [20, 32.5]}},
        "color": {"field": "group", "type": "nominal", "title": "V", "scale": {"domain": ["A", "B"], "range": ["#3b3b3b", "#9c9c9c"]}}
      },
      "layer": [
        {"mark": {"type": "circle", "size": 120, "opacity": 1}, "encoding": {"y": {"field": "mean", "type": "quantitative", "title": "FiO₂ (%)", "scale": {"domain": [0, 55.7], "nice": false}, "axis": {"values": [0, 10, 20, 30, 40, 50]}}}},
        {"mark": {"type": "rule", "strokeWidth": 2.5}, "encoding": {"y": {"field": "lo", "type": "quantitative", "title": "FiO₂ (%)", "scale": {"domain": [0, 55.7], "nice": false}, "axis": {"values": [0, 10, 20, 30, 40, 50]}}, "y2": {"field": "hi"}}}
      ]
    }
  ]
}
